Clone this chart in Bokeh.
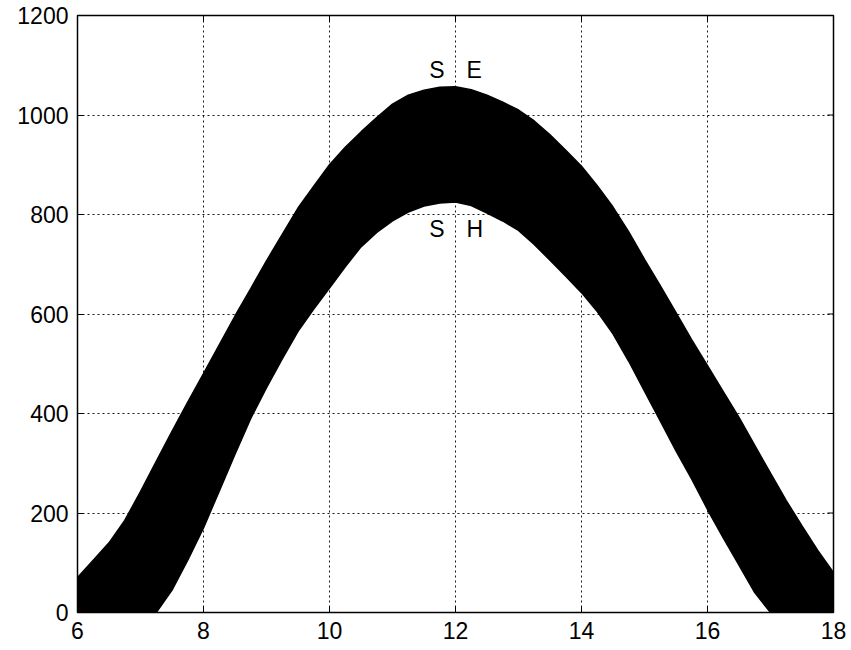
import math
from bokeh.plotting import figure
from bokeh.models import Range1d, FixedTicker, ColumnDataSource
from bokeh.embed import file_html
from bokeh.resources import INLINE
from bokeh.core.properties import value

# Hour of day (x) and the envelope of the family of irradiance curves (y),
# read off the picture every quarter hour
hours = [6.0, 6.25, 6.5, 6.75, 7.0, 7.25, 7.5, 7.75, 8.0, 8.25, 8.5, 8.75,
         9.0, 9.25, 9.5, 9.75, 10.0, 10.25, 10.5, 10.75, 11.0, 11.25, 11.5, 11.75,
         12.0, 12.25, 12.5, 12.75, 13.0, 13.25, 13.5, 13.75, 14.0, 14.25, 14.5, 14.75,
         15.0, 15.25, 15.5, 15.75, 16.0, 16.25, 16.5, 16.75, 17.0, 17.25, 17.5, 17.75,
         18.0]
upper_se = [70, 105, 140, 185, 243, 304, 364, 423, 480, 538, 596, 651,
            707, 760, 813, 857, 900, 935, 966, 995, 1022, 1040, 1050, 1056,
            1057, 1051, 1040, 1026, 1010, 988, 960, 929, 897, 858, 815, 765,
            710, 657, 603, 548, 496, 444, 392, 336, 280, 225, 174, 125,
            80]
lower_sh = [0, 0, 0, 0, 0, 0, 45, 105, 170, 244, 318, 390,
            452, 510, 565, 610, 652, 695, 735, 764, 787, 805, 817, 823,
            825, 818, 803, 787, 768, 740, 708, 676, 643, 605, 560, 505,
            445, 385, 325, 268, 207, 150, 95, 40, 0, 0, 0, 0,
            0]

x_ticks = [6, 8, 10, 12, 14, 16, 18]
y_ticks = [0, 200, 400, 600, 800, 1000, 1200]

label_left = ["S", "S"]
label_right = ["E", "H"]
label_x = [12, 12]
label_y = [1091, 770]

FONT = "Liberation Sans"

p = figure(width=851, height=650, output_backend="svg", toolbar_location=None,
           x_range=Range1d(6, 18), y_range=Range1d(0, 1200),
           min_border_left=77, min_border_right=18, min_border_top=15, min_border_bottom=38,
           background_fill_color="white", border_fill_color="white")

src = ColumnDataSource(dict(x=hours, up=upper_se, lo=lower_sh))
p.varea(x="x", y1="lo", y2="up", source=src, fill_color="black")
p.line(x="x", y="up", source=src, line_color="black", line_width=1.5)
p.line(x="x", y="lo", source=src, line_color="black", line_width=1.5)

lsrc = ColumnDataSource(dict(x=label_x, y=label_y, tl=label_left, tr=label_right))
p.text(x="x", y="y", text="tl", source=lsrc, text_align="right", text_baseline="middle",
       x_offset=-11, text_font=value(FONT), text_font_size="23px", text_color="black")
p.text(x="x", y="y", text="tr", source=lsrc, text_align="left", text_baseline="middle",
       x_offset=11, text_font=value(FONT), text_font_size="23px", text_color="black")

# inward tick marks on the right and top edges of the box (MATLAB style)
p.ray(x=[x_ticks[-1]] * len(y_ticks), y=y_ticks, length=6, length_units="screen",
      angle=math.pi, line_color="black", line_width=1)
p.ray(x=x_ticks, y=[y_ticks[-1]] * len(x_ticks), length=6, length_units="screen",
      angle=-math.pi / 2, line_color="black", line_width=1)

for ax in (p.xaxis[0], p.yaxis[0]):
    ax.major_tick_in = 6
    ax.major_tick_out = 0
    ax.minor_tick_line_color = None
    ax.axis_line_color = "black"
    ax.major_tick_line_color = "black"
    ax.major_label_text_font = FONT
    ax.major_label_text_font_size = "23px"
    ax.major_label_text_color = "black"
    ax.major_label_standoff = 9
p.xaxis[0].ticker = FixedTicker(ticks=x_ticks)
p.yaxis[0].ticker = FixedTicker(ticks=y_ticks)

p.xgrid.ticker = FixedTicker(ticks=x_ticks)
p.ygrid.ticker = FixedTicker(ticks=y_ticks)
for g in (p.xgrid[0], p.ygrid[0]):
    g.grid_line_color = "black"
    g.grid_line_dash = "2 3"
    g.grid_line_width = 1
    g.grid_line_alpha = 0.9

p.outline_line_color = "black"
p.outline_line_width = 1.5

open("out.html", "w").write(file_html(p, INLINE))
